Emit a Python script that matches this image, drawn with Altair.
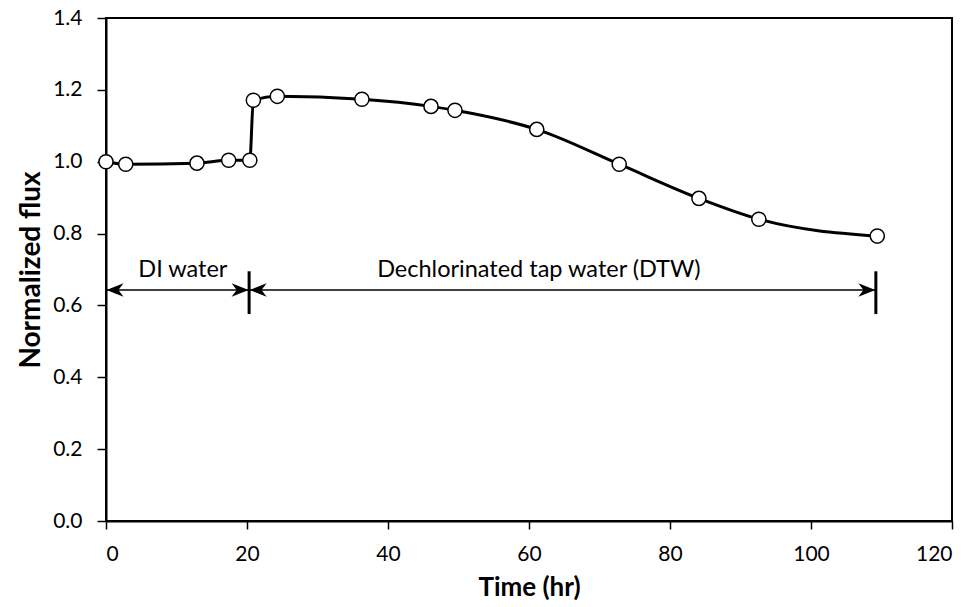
import altair as alt
import pandas as pd

time_hr = [0, 2.8, 12.9, 17.4, 20.4, 20.9, 24.3, 36.3, 46.1, 49.5, 61.1, 72.8, 84.1, 92.6, 109.4]
flux = [1.0, 0.993, 0.996, 1.004, 1.004, 1.171, 1.182, 1.174, 1.154, 1.143, 1.09, 0.993, 0.898, 0.84, 0.793]

seg_x = [0, 20.3, 20.3, 109.2]
seg_label = ["DI water", "Dechlorinated tap water (DTW)"]
label_x = [10.9, 61.4]
arrow_y = 0.643
bar_lo, bar_hi = 0.576, 0.695
label_y = 0.679

FONT = "Lato"

df = pd.DataFrame({"t": time_hr, "f": flux})

xs = alt.Scale(domain=[0, 120], nice=False)
ys = alt.Scale(domain=[0, 1.4], nice=False)

xaxis = alt.Axis(values=[0, 20, 40, 60, 80, 100, 120], title="Time (hr)", grid=False,
                 labelPadding=14, titlePadding=10, tickSize=8, titleFontSize=26)
yaxis = alt.Axis(values=[0, 0.2, 0.4, 0.6, 0.8, 1.0, 1.2, 1.4], format=".1f", title="Normalized flux",
                 grid=False, labelPadding=15, titlePadding=7, tickSize=9, titleFontSize=28)

line = alt.Chart(df).mark_line(color="black", strokeWidth=3, interpolate="monotone").encode(
    x=alt.X("t:Q", scale=xs, axis=xaxis),
    y=alt.Y("f:Q", scale=ys, axis=yaxis),
)
pts = alt.Chart(df).mark_point(shape="circle", filled=True, fill="white", stroke="black",
                               strokeWidth=1.5, size=200, opacity=1).encode(
    x=alt.X("t:Q", scale=xs), y=alt.Y("f:Q", scale=ys))

# horizontal arrow lines
seg_df = pd.DataFrame({"x1": [seg_x[0], seg_x[2]], "x2": [seg_x[1], seg_x[3]], "y": [arrow_y, arrow_y]})
hl = alt.Chart(seg_df).mark_rule(color="black", strokeWidth=1.5).encode(
    x=alt.X("x1:Q", scale=xs), x2="x2:Q", y=alt.Y("y:Q", scale=ys))

# vertical end bars
bar_df = pd.DataFrame({"x": [seg_x[1], seg_x[3]], "y1": [bar_lo, bar_lo], "y2": [bar_hi, bar_hi]})
vb = alt.Chart(bar_df).mark_rule(color="black", strokeWidth=3).encode(
    x=alt.X("x:Q", scale=xs), y=alt.Y("y1:Q", scale=ys), y2="y2:Q")

# arrow heads
left_path = "M-1,0 L1,-0.8 L0.4,0 L1,0.8 Z"
right_path = "M1,0 L-1,-0.8 L-0.4,0 L-1,0.8 Z"
lh_df = pd.DataFrame({"x": [seg_x[0], seg_x[2]], "y": [arrow_y, arrow_y]})
rh_df = pd.DataFrame({"x": [seg_x[1], seg_x[3]], "y": [arrow_y, arrow_y]})
lh = alt.Chart(lh_df).mark_point(shape=left_path, filled=True, fill="black", size=289, opacity=1, xOffset=9).encode(
    x=alt.X("x:Q", scale=xs), y=alt.Y("y:Q", scale=ys))
rh = alt.Chart(rh_df).mark_point(shape=right_path, filled=True, fill="black", size=289, opacity=1, xOffset=-9).encode(
    x=alt.X("x:Q", scale=xs), y=alt.Y("y:Q", scale=ys))

txt_df = pd.DataFrame({"x": label_x, "y": [label_y, label_y], "t": seg_label})
txt = alt.Chart(txt_df).mark_text(font=FONT, fontSize=23.5, baseline="alphabetic", align="center", color="black").encode(
    x=alt.X("x:Q", scale=xs), y=alt.Y("y:Q", scale=ys), text="t:N")

chart = alt.layer(line, pts, hl, vb, lh, rh, txt).properties(
    width=846, height=503,
    autosize=alt.AutoSizeParams(type="none"),
    padding={"left": 106, "top": 18, "right": 22, "bottom": 86},
).configure_view(stroke="black", strokeWidth=2).configure_axis(
    domainColor="black", domainWidth=2, tickColor="black", tickWidth=1.5,
    labelFont=FONT, labelFontSize=21, labelColor="black",
    titleFont=FONT, titleFontWeight="bold", titleColor="black",
)

chart.save("out.html", embed_options={"renderer": "svg", "actions": False})
